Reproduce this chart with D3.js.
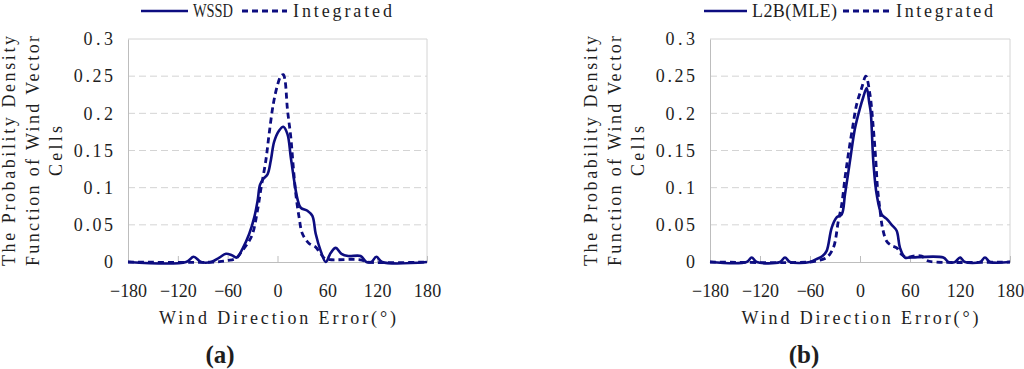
<!DOCTYPE html>
<html lang="en">
<head>
<meta charset="UTF-8">
<title>Wind direction error PDF</title>
<script src="https://cdn.jsdelivr.net/npm/d3@7"></script>
<style>
  body { margin: 0; background: #fff; }
  svg text { font-family: "Liberation Serif", "DejaVu Serif", serif; fill: #1e1e1e; }
</style>
</head>
<body>
<div id="chart-space"></div>
<script>
// axis ticks
var xTicks = [-180, -120, -60, 0, 60, 120, 180];
var yTicks = [0, 0.05, 0.1, 0.15, 0.2, 0.25, 0.3];
var yTickLabels = ["0", "0.05", "0.1", "0.15", "0.2", "0.25", "0.3"];

// panel (a): WSSD vs Integrated
var wssdAngle = [-180, -110, -101, -92, -80, -70, -62, -55, -49, -42, -34, -28, -24, -21, -17, -12, -8, -4, 2, 7, 12, 16, 20, 24, 28, 36, 42, 46, 52, 58, 64, 70, 77, 85, 100, 107, 113, 119, 126, 180];
var wssdValue = [0, 0, 0.007, 0, 0, 0.006, 0.011, 0.009, 0.006, 0.018, 0.038, 0.06, 0.082, 0.104, 0.112, 0.118, 0.137, 0.162, 0.177, 0.182, 0.172, 0.141, 0.11, 0.085, 0.073, 0.069, 0.062, 0.038, 0.015, 0, 0.012, 0.019, 0.011, 0.008, 0.008, 0, 0, 0.007, 0, 0];

var integAAngle = [-180, -75, -60, -50, -42, -36, -30, -24, -20, -14, -10, -5, 0, 4, 7, 9, 12, 16, 19, 22, 26, 30, 38, 46, 52, 58, 65, 100, 108, 180];
var integAValue = [0, 0, 0.002, 0.005, 0.016, 0.025, 0.038, 0.07, 0.098, 0.137, 0.173, 0.213, 0.238, 0.25, 0.252, 0.245, 0.205, 0.168, 0.128, 0.092, 0.06, 0.038, 0.025, 0.02, 0.011, 0.004, 0.003, 0.003, 0, 0];

// panel (b): L2B(MLE) vs Integrated
var l2bAngle = [-180, -136, -130, -124, -96, -90, -84, -60, -52, -45, -40, -34, -28, -22, -18, -12, -6, 0, 4, 8, 11, 13, 16, 20, 26, 32, 38, 44, 48, 54, 60, 100, 106, 114, 120, 126, 144, 150, 156, 180];
var l2bValue = [0, 0, 0.006, 0, 0, 0.006, 0, 0, 0.004, 0.008, 0.015, 0.046, 0.06, 0.064, 0.091, 0.136, 0.18, 0.207, 0.222, 0.234, 0.215, 0.2, 0.135, 0.091, 0.064, 0.058, 0.05, 0.042, 0.019, 0.006, 0.006, 0.006, 0, 0, 0.006, 0, 0, 0.006, 0, 0];

var integBAngle = [-180, -60, -50, -40, -32, -26, -22, -18, -14, -9, -4, 2, 7, 12, 16, 19, 21, 24, 27, 32, 38, 44, 50, 56, 64, 74, 80, 90, 180];
var integBValue = [0, 0, 0.002, 0.006, 0.019, 0.055, 0.077, 0.113, 0.145, 0.18, 0.212, 0.234, 0.25, 0.225, 0.18, 0.136, 0.1, 0.07, 0.046, 0.028, 0.022, 0.019, 0.01, 0.006, 0.008, 0.008, 0.002, 0, 0];

var width = 1024, height = 369;
var lineColor = "#0d0d80";
var gridColor = "#d4d4d4";

var svg = d3.select("#chart-space").append("svg")
    .attr("width", width).attr("height", height);
svg.append("rect").attr("width", width).attr("height", height).attr("fill", "#fff");

function zip(a, v) {
    return a.map(function(d, i) { return [d, v[i]]; });
}

function drawPanel(p) {
    var x = d3.scaleLinear().domain([-180, 180]).range([p.left, p.right]);
    var y = d3.scaleLinear().domain([0, 0.3]).range([262, 39]);
    var g = svg.append("g");

    // dashed grid
    g.selectAll(".grid").data(yTicks.slice(1, -1)).join("line")
        .attr("x1", p.left).attr("x2", p.right)
        .attr("y1", function(d) { return y(d); }).attr("y2", function(d) { return y(d); })
        .attr("stroke", gridColor).attr("stroke-dasharray", "7,4");

    // box top + right
    g.append("line").attr("x1", p.left).attr("x2", p.right).attr("y1", y(0.3)).attr("y2", y(0.3)).attr("stroke", gridColor);
    g.append("line").attr("x1", p.right).attr("x2", p.right).attr("y1", y(0.3)).attr("y2", y(0)).attr("stroke", gridColor);

    // y axis
    var ya = g.append("g").attr("transform", "translate(" + p.left + ",0)")
        .call(d3.axisLeft(y).tickValues(yTicks).tickSize(0).tickSizeOuter(0).tickPadding(15)
            .tickFormat(function(d, i) { return yTickLabels[i]; }));
    ya.select(".domain").attr("stroke", "#bdbdbd");
    ya.selectAll("text").attr("font-size", 18).attr("font-family", null)
        .each(function() {
            var t = d3.select(this).text();
            if (t.length > 1) d3.select(this).attr("textLength", t.length * 9.8).attr("lengthAdjust", "spacing");
        });

    // x axis
    var xa = g.append("g").attr("transform", "translate(0," + y(0) + ")")
        .call(d3.axisBottom(x).tickValues(xTicks).tickSize(-6).tickSizeOuter(0).tickPadding(22));
    xa.select(".domain").attr("stroke", "#bdbdbd");
    xa.selectAll(".tick line").attr("stroke", "#bdbdbd");
    xa.selectAll("text").attr("font-size", 18).attr("font-family", null)
        .each(function() {
            var t = d3.select(this).text();
            if (t.length > 1) d3.select(this).attr("textLength", t.length * 9.2).attr("lengthAdjust", "spacing");
        });

    // series
    var line = d3.line()
        .x(function(d) { return x(d[0]); })
        .y(function(d) { return y(d[1]); })
        .curve(d3.curveCatmullRom.alpha(0.5));

    g.append("path").datum(zip(p.dashA, p.dashV)).attr("d", line)
        .attr("fill", "none").attr("stroke", lineColor).attr("stroke-width", 2.8)
        .attr("stroke-dasharray", "6,4");
    g.append("path").datum(zip(p.solidA, p.solidV)).attr("d", line)
        .attr("fill", "none").attr("stroke", lineColor).attr("stroke-width", 2.6);

    // y title (three lines)
    p.yTitle.forEach(function(s, i) {
        var cx = p.left - 119 + i * 23.5;
        g.append("text")
            .attr("transform", "translate(" + cx + ",151) rotate(-90)")
            .attr("text-anchor", "middle").attr("dy", "0.35em")
            .attr("font-size", 18)
            .attr("textLength", s.length * 10).attr("lengthAdjust", "spacing")
            .text(s);
    });

    // x title
    g.append("text").attr("x", (p.left + p.right) / 2).attr("y", 324)
        .attr("text-anchor", "middle").attr("font-size", 18)
        .attr("textLength", 237).attr("lengthAdjust", "spacing")
        .text("Wind Direction Error(°)");

    // legend
    var lg = p.legend;
    g.append("line").attr("x1", lg.solid[0]).attr("x2", lg.solid[1]).attr("y1", 11).attr("y2", 11)
        .attr("stroke", lineColor).attr("stroke-width", 2.6);
    g.append("text").attr("x", lg.solidText[0]).attr("y", 17).attr("font-size", 18)
        .attr("textLength", lg.solidText[1]).attr("lengthAdjust", lg.solidText[2]).text(p.solidName);
    g.append("line").attr("x1", lg.dash[0]).attr("x2", lg.dash[1]).attr("y1", 11).attr("y2", 11)
        .attr("stroke", lineColor).attr("stroke-width", 2.8).attr("stroke-dasharray", "6,4");
    g.append("text").attr("x", lg.dashText[0]).attr("y", 17).attr("font-size", 18)
        .attr("textLength", lg.dashText[1]).attr("lengthAdjust", "spacing").text("Integrated");

    // panel label
    g.append("text").attr("x", p.labelX).attr("y", 363).attr("text-anchor", "middle")
        .attr("font-size", 25).attr("font-weight", "bold").attr("fill", "#000").text(p.label);
}

var yTitleLines = ["The Probability Density", "Function of Wind Vector", "Cells"];

drawPanel({
    left: 128, right: 427,
    solidA: wssdAngle, solidV: wssdValue, solidName: "WSSD",
    dashA: integAAngle, dashV: integAValue,
    yTitle: yTitleLines,
    legend: { solid: [141, 188], solidText: [193, 40, "spacingAndGlyphs"], dash: [242, 287], dashText: [293, 99] },
    label: "(a)", labelX: 220
});

drawPanel({
    left: 710, right: 1010,
    solidA: l2bAngle, solidV: l2bValue, solidName: "L2B(MLE)",
    dashA: integBAngle, dashV: integBValue,
    yTitle: yTitleLines,
    legend: { solid: [704, 747], solidText: [752, 85, "spacing"], dash: [843, 890], dashText: [896, 97] },
    label: "(b)", labelX: 804
});
</script>
</body>
</html>
